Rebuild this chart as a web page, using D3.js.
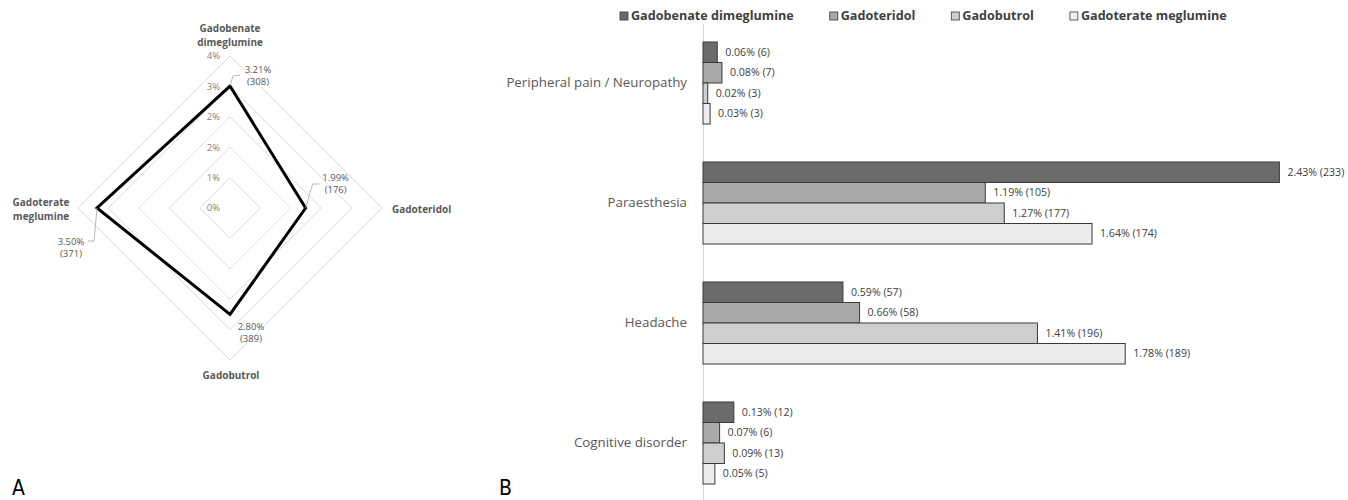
<!DOCTYPE html>
<html>
<head>
  <meta charset="utf-8">
  <title>GBCA adverse events</title>
  <style>
    body { margin: 0; background: #fff; }
    svg { display: block; font-family: "Open Sans", sans-serif; }
  </style>
</head>
<body>
  <svg width="1348" height="500" class="chart"></svg>

  <script src="https://d3js.org/d3.v7.min.js"></script>
  <script type="text/javascript">

  // ---- data (A: radar) ----
  var radarAxes = ["Gadobenate dimeglumine", "Gadoteridol", "Gadobutrol", "Gadoterate meglumine"];
  var radarPct = [3.21, 1.99, 2.80, 3.50];
  var radarN = [308, 176, 389, 371];
  var radarTicks = [0, 0.8, 1.6, 2.4, 3.2, 4.0];

  // ---- data (B: grouped bars) ----
  var categories = ["Peripheral pain / Neuropathy", "Paraesthesia", "Headache", "Cognitive disorder"];
  var agents = ["Gadobenate dimeglumine", "Gadoteridol", "Gadobutrol", "Gadoterate meglumine"];
  var pctBenate = [0.06, 2.43, 0.59, 0.13];
  var nBenate = [6, 233, 57, 12];
  var pctTeridol = [0.08, 1.19, 0.66, 0.07];
  var nTeridol = [7, 105, 58, 6];
  var pctButrol = [0.02, 1.27, 1.41, 0.09];
  var nButrol = [3, 177, 196, 13];
  var pctTerate = [0.03, 1.64, 1.78, 0.05];
  var nTerate = [3, 174, 189, 5];

  var agentColors = ["#6b6b6b", "#a9a9a9", "#cecece", "#ededed"];

  var svg = d3.select(".chart");

  // ================= A: radar =================
  var cx = 230, cy = 208;
  var r = d3.scaleLinear().domain([0, 4]).range([0, 152]);
  var angle = d3.scalePoint().domain(radarAxes).range([0, 2 * Math.PI * 3 / 4]);
  var gA = svg.append("g").attr("transform", "translate(" + cx + "," + cy + ")");

  function pt(ax, v) {
    var a = angle(ax);
    return [Math.sin(a) * r(v), -Math.cos(a) * r(v)];
  }

  // rings
  gA.selectAll(".ring")
    .data(radarTicks.filter(function(t) { return t > 0; }))
    .enter().append("path")
    .attr("class", "ring")
    .attr("fill", "none")
    .attr("stroke", "#d9d9d9")
    .attr("stroke-width", 1)
    .attr("d", function(t) {
      return d3.line()(radarAxes.map(function(ax) { return pt(ax, t); })) + "Z";
    });

  // tick labels (Excel rounds 0.8% steps to whole percents)
  var tickFmt = d3.format(".0%");
  gA.selectAll(".tick")
    .data(radarTicks)
    .enter().append("text")
    .attr("x", -10)
    .attr("y", function(t) { return -r(t); })
    .attr("dy", "0.35em")
    .attr("text-anchor", "end")
    .attr("font-size", 9.5)
    .attr("fill", "#7f7f7f")
    .text(function(t) { return tickFmt(t / 100); });

  // data polygon
  var radarData = radarAxes.map(function(ax, i) { return { ax: ax, v: radarPct[i], n: radarN[i] }; });
  gA.append("path")
    .attr("fill", "none")
    .attr("stroke", "#000")
    .attr("stroke-width", 3)
    .attr("stroke-linejoin", "miter")
    .attr("d", d3.line()(radarData.map(function(d) { return pt(d.ax, d.v); })) + "Z");

  // data labels with leader lines (offsets from vertex)
  var lblOff = [
    { lead: [[3, -10], [10, -11]], tx: 28, ty: -16 },
    { lead: [[7, -24], [14, -24]], tx: 30, ty: -30 },
    { lead: [], tx: 21, ty: 12 },
    { lead: [[-3, 33], [-9, 33]], tx: -26, ty: 34 }
  ];
  radarData.forEach(function(d, i) {
    var p = pt(d.ax, d.v), o = lblOff[i];
    if (o.lead.length) {
      var pts = [p].concat(o.lead.map(function(q) { return [p[0] + q[0], p[1] + q[1]]; }));
      gA.append("path").attr("fill", "none").attr("stroke", "#a6a6a6").attr("stroke-width", 0.8)
        .attr("d", d3.line()(pts));
    }
    var t = gA.append("text")
      .attr("text-anchor", "middle")
      .attr("font-size", 9.5)
      .attr("fill", "#595959");
    t.append("tspan").attr("x", p[0] + o.tx).attr("y", p[1] + o.ty).attr("dy", "0.35em")
      .text(d3.format(".2f")(d.v) + "%");
    t.append("tspan").attr("x", p[0] + o.tx).attr("y", p[1] + o.ty + 12).attr("dy", "0.35em")
      .text("(" + d.n + ")");
  });

  // axis names
  var axLbl = [
    { x: 0, y: -180, anchor: "middle" },
    { x: 162, y: 1, anchor: "start" },
    { x: 1, y: 167, anchor: "middle" },
    { x: -189, y: -6, anchor: "middle" }
  ];
  radarAxes.forEach(function(ax, i) {
    var words = ax.split(" ");
    var t = gA.append("text")
      .attr("text-anchor", axLbl[i].anchor)
      .attr("font-size", 10)
      .attr("font-weight", "bold")
      .attr("fill", "#595959");
    words.forEach(function(w, j) {
      t.append("tspan").attr("x", axLbl[i].x).attr("y", axLbl[i].y + j * 14.5).attr("dy", "0.35em").text(w);
    });
  });

  // ================= B: bars =================
  var x = d3.scaleLinear().domain([0, 2.5]).range([703, 1296]);
  var y = d3.scaleBand().domain(categories).range([23, 503]).paddingInner(0.3167).paddingOuter(0.1583);
  var ySub = d3.scaleBand().domain(agents).range([0, y.bandwidth()]);

  var pctSeries = [pctBenate, pctTeridol, pctButrol, pctTerate];
  var nSeries = [nBenate, nTeridol, nButrol, nTerate];

  var yAxis = d3.axisLeft(y).tickSize(0).tickPadding(16);
  var gAx = svg.append("g").attr("transform", "translate(703,0)").call(yAxis);
  gAx.select(".domain").attr("stroke", "#d9d9d9");
  gAx.selectAll("text").attr("font-size", 13.3).attr("fill", "#595959").attr("font-family", "Open Sans, sans-serif");

  var groups = svg.selectAll(".grp")
    .data(categories)
    .enter().append("g")
    .attr("class", "grp")
    .attr("transform", function(c) { return "translate(0," + y(c) + ")"; });

  groups.each(function(c, ci) {
    var g = d3.select(this);
    var rows = agents.map(function(a, ai) { return { a: a, ai: ai, v: pctSeries[ai][ci], n: nSeries[ai][ci] }; });
    g.selectAll("rect")
      .data(rows)
      .enter().append("rect")
      .attr("x", x(0))
      .attr("y", function(d) { return ySub(d.a); })
      .attr("width", function(d) { return x(d.v) - x(0); })
      .attr("height", ySub.bandwidth())
      .attr("fill", function(d) { return agentColors[d.ai]; })
      .attr("stroke", "#3a3a3a")
      .attr("stroke-width", 1);
    g.selectAll(".val")
      .data(rows)
      .enter().append("text")
      .attr("class", "val")
      .attr("x", function(d) { return x(d.v) + 8; })
      .attr("y", function(d) { return ySub(d.a) + ySub.bandwidth() / 2; })
      .attr("dy", "0.35em")
      .attr("font-size", 10.6)
      .attr("fill", "#404040")
      .text(function(d) { return d3.format(".2f")(d.v) + "% (" + d.n + ")"; });
  });

  // legend
  var lg = svg.append("g").attr("transform", "translate(620,16)");
  var lx = 0;
  agents.forEach(function(a, i) {
    var it = lg.append("g").attr("transform", "translate(" + lx + ",0)");
    it.append("rect").attr("x", 0).attr("y", -4).attr("width", 8).attr("height", 8)
      .attr("fill", agentColors[i]).attr("stroke", "#3a3a3a").attr("stroke-width", 0.8);
    var t = it.append("text").attr("x", 11).attr("dy", "0.35em")
      .attr("font-size", 12.6).attr("font-weight", "bold").attr("fill", "#404040").text(a);
    lx += 11 + t.node().getComputedTextLength() + 36;
  });

  // panel letters
  svg.append("text").attr("x", 12).attr("y", 495).attr("font-size", 21)
    .attr("font-family", "DejaVu Sans Condensed, DejaVu Sans, sans-serif").attr("fill", "#000").text("A");
  svg.append("text").attr("x", 499).attr("y", 495).attr("font-size", 21)
    .attr("font-family", "DejaVu Sans Condensed, DejaVu Sans, sans-serif").attr("fill", "#000").text("B");

  </script>
</body>
</html>
